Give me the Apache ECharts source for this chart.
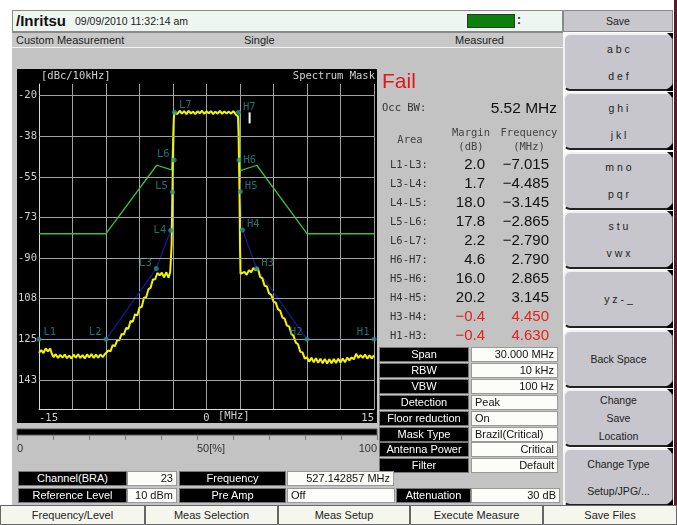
<!DOCTYPE html>
<html>
<head>
<meta charset="utf-8">
<script src="https://cdn.jsdelivr.net/npm/echarts@6/dist/echarts.min.js"></script>
<style>
  body { margin: 0; width: 677px; height: 525px; overflow: hidden; background: #fff; position: relative;
         font-family: "Liberation Sans", Arial, sans-serif; color: #222; }
  .a { position: absolute; box-sizing: border-box; white-space: nowrap; }
  .mono { font-family: "DejaVu Sans Mono", monospace; }
  .blk { background: #000; color: #fff; border: 1px solid #777; font-size: 11px; text-align: center; line-height: 13px; }
  .wht { background: #fcfcf8; color: #111; border: 1px solid #999; font-size: 11px; text-align: right; line-height: 13px; padding: 0 3px; }
  .sk { position: absolute; left: 563px; width: 110px; box-sizing: border-box; background: #c6c6cc;
        border-top: 2px solid #f2f2f2; border-left: 2px solid #f2f2f2; border-right: 1px solid #666; border-bottom: 2px solid #222;
        border-radius: 7px; display: flex; flex-direction: column; justify-content: space-around; align-items: center;
        font-size: 10.5px; color: #222; }
  .sk::after { content: ""; position: absolute; right: -1px; bottom: -2px; border-left: 7px solid transparent; border-bottom: 7px solid #000; }
  .sk::before { content: ""; position: absolute; right: -1px; top: -2px; border-left: 6px solid transparent; border-top: 6px solid #000; }
  .btn { position: absolute; top: 505px; height: 20px; box-sizing: border-box; background: #f5f7ee; border: 1px solid #666;
         font-size: 11px; text-align: center; line-height: 18px; color: #222; }
</style>
</head>
<body>
<!-- instrument chrome -->
<div class="a" style="left:12px;top:31px;width:551px;height:474px;background:#c3c3c3"></div>
<div class="a" style="left:12px;top:10px;width:551px;height:22px;background:#eef6f2;border:1px solid #8a8a8a"></div>
<div class="a" style="left:16px;top:12px;font-size:15px;font-weight:bold;color:#111;line-height:18px">/Inritsu</div>
<div class="a" style="left:75px;top:15px;font-size:10.5px;line-height:13px">09/09/2010 11:32:14 am</div>
<div class="a" style="left:467px;top:14px;width:48px;height:14px;background:#0b800b;border:1px solid #333"></div>
<div class="a" style="left:517px;top:13px;font-size:12px;font-weight:bold">:</div>
<div class="a" style="left:12px;top:32px;width:551px;height:16px;background:#c8c8c8;border-top:1px solid #8a8a8a;border-bottom:1px solid #f4f4f4"></div>
<div class="a" style="left:16px;top:34px;font-size:11px;line-height:13px">Custom Measurement</div>
<div class="a" style="left:244px;top:34px;font-size:11px;line-height:13px">Single</div>
<div class="a" style="left:455px;top:34px;font-size:11px;line-height:13px">Measured</div>
<div class="a" style="left:17px;top:69px;width:360px;height:354px;background:#000"></div>
<div class="a" style="left:674px;top:0px;width:3px;height:505px;background:#5a1a2a"></div>

<div id="chart" class="a" style="left:13px;top:47px;width:550px;height:423px"></div>
<div id="panel"></div>

<script>
// spectrum trace (MHz, dBc/10kHz)
const traceMHz = [
  -15, -14.8, -14.6, -14.4, -14.2, -14.0, -13.85, -13.7, -13.5, -13.3, -13.1, -12.9, -12.7, -12.5, -12.3, -12.1,
  -11.9, -11.7, -11.5, -11.3, -11.1, -10.9, -10.7, -10.5, -10.3, -10.1, -9.9, -9.7, -9.5, -9.3, -9.1, -8.95,
  -8.8, -8.6, -8.4, -8.2, -8.0, -7.8, -7.6, -7.4, -7.2, -7.0, -6.8, -6.6, -6.4, -6.2, -6.0, -5.8, -5.6, -5.4,
  -5.2, -5.0, -4.8, -4.6, -4.4, -4.2, -4.0, -3.8, -3.6, -3.4, -3.25, -3.15,
  -3.12, -3.08, -3.03, -2.98, -2.93, -2.88,
  -2.8, -2.6, -2.4, -2.2, -2.0, -1.8, -1.6, -1.4, -1.2, -1.0, -0.8, -0.6, -0.4, -0.2, 0, 0.2, 0.4, 0.6, 0.8,
  1.0, 1.2, 1.4, 1.6, 1.8, 2.0, 2.2, 2.4, 2.6, 2.75,
  2.82, 2.87, 2.92, 2.97, 3.0, 3.05,
  3.2, 3.4, 3.6, 3.8, 4.0, 4.2, 4.4, 4.6, 4.8, 5.0, 5.2, 5.4, 5.6, 5.8, 6.0, 6.2, 6.4, 6.6, 6.8, 7.0, 7.2,
  7.4, 7.6, 7.8, 8.0, 8.2, 8.4, 8.6, 8.8, 9.0,
  9.2, 9.4, 9.6, 9.8, 10.0, 10.2, 10.4, 10.6, 10.8, 11.0, 11.2, 11.4, 11.6, 11.8, 12.0, 12.2, 12.4, 12.6,
  12.8, 13.0, 13.2, 13.4, 13.6, 13.8, 14.0, 14.2, 14.4, 14.6, 14.8, 15.0
];
const traceDb = [
  -130.8, -129.6, -130.9, -128.9, -130.2, -129.0, -131.2, -132.6, -131.4, -133.0, -131.7, -132.9, -131.5, -133.1, -132.0, -133.2,
  -131.6, -132.9, -131.4, -133.0, -131.8, -133.2, -131.5, -132.8, -131.3, -133.0, -131.6, -132.9, -131.5, -132.7, -131.4, -132.2,
  -129.8, -130.2, -127.5, -127.9, -125.4, -125.4, -122.7, -122.9, -120.1, -120.4, -117.1, -117.4, -114.2, -114.7, -111.3, -111.1, -107.1, -106.9,
  -103.4, -102.7, -99.2, -99.1, -96.4, -97.4, -96.3, -98.3, -96.1, -98.4, -96.0, -95.5,
  -84, -70, -55, -40, -30, -27.4,
  -26.6, -27.9, -26.5, -27.8, -26.7, -28.0, -26.6, -27.7, -26.9, -28.0, -26.8, -27.6, -26.5, -27.9, -26.8, -27.6, -26.7, -28.0, -26.9,
  -27.8, -26.6, -27.9, -26.8, -27.7, -26.9, -27.8, -26.7, -28.0, -27.2,
  -29, -36, -50, -68, -85, -96.8,
  -97.6, -95.9, -97.2, -95.2, -96.1, -94.3, -95.2, -94.4, -98.1, -98.7, -101.9, -102.1, -105.2, -105.8, -108.7, -109.2, -112.0, -112.7, -115.6, -116.1, -119.1,
  -119.4, -122.7, -123.5, -126.4, -127.1, -130.4, -130.6, -133.3, -132.8,
  -134.6, -132.9, -134.9, -133.1, -135.1, -133.3, -135.3, -133.4, -135.4, -133.6, -135.3, -133.5, -135.2, -133.3, -135.0, -133.2, -134.9, -132.9,
  -134.0, -132.8, -133.6, -131.2, -133.0, -131.8, -133.0, -131.5, -133.3, -131.9, -133.2, -131.9
];

// critical mask limit with its points L1..L7, H7..H1
const limitNames = ['L1', 'L2', 'L3', 'L4', 'L5', 'L6', 'L7', 'H7', 'H6', 'H5', 'H4', 'H3', 'H2', 'H1'];
const limitMHz = [-15, -9, -4.5, -3.2, -3.05, -2.9, -2.87, 2.87, 2.9, 3.03, 3.22, 4.5, 9, 15];
const limitDb = [-125, -125, -94.5, -78, -61.5, -47.7, -27.2, -27.2, -47.7, -61.3, -77.9, -94.5, -125, -125];

// second (green) mask
const greenMHz = [-15, -9, -4.46, -3.12, -2.9, 2.9, 3.03, 4.5, 9, 15];
const greenDb = [-79.5, -79.5, -50, -52, -27.2, -27.2, -52.3, -50, -79.5, -79.5];

// axis ticks
const yTickValues = [-20, -37.5, -55, -72.5, -90, -107.5, -125, -142.5];
const yTickLabels = ['-20', '-38', '-55', '-73', '-90', '108', '125', '143'];
const xTickLabelValues = [-15, 0, 15];
const progressLabelValues = [0, 50, 100];
const progressLabels = ['0', '50[%]', '100'];

// result table
const occBw = '5.52 MHz';
const areaNames = ['L1-L3:', 'L3-L4:', 'L4-L5:', 'L5-L6:', 'L6-L7:', 'H6-H7:', 'H5-H6:', 'H4-H5:', 'H3-H4:', 'H1-H3:'];
const marginDb = [2.0, 1.7, 18.0, 17.8, 2.2, 4.6, 16.0, 20.2, -0.4, -0.4];
const worstMHz = [-7.015, -4.485, -3.145, -2.865, -2.790, 2.790, 2.865, 3.145, 4.450, 4.630];

const settingNames = ['Span', 'RBW', 'VBW', 'Detection', 'Floor reduction', 'Mask Type', 'Antenna Power', 'Filter'];
const settingValues = ['30.000 MHz', '10 kHz', '100 Hz', 'Peak', 'On', 'Brazil(Critical)', 'Critical', 'Default'];

const softkeys = [['a b c', 'd e f'], ['g h i', 'j k l'], ['m n o', 'p q r'], ['s t u', 'v w x'], ['y z - _'],
                  ['Back Space'], ['Change', 'Save', 'Location'], ['Change Type', 'Setup/JPG/...']];
const bottomButtons = ['Frequency/Level', 'Meas Selection', 'Meas Setup', 'Execute Measure', 'Save Files'];

// label placement of the mask points
const labelSide = ['right', 'left', 'left', 'left', 'left', 'left', 'right', 'right', 'right', 'right', 'right', 'right', 'left', 'left'];
const labelRise = [-7, -7, -5, 0, -6, -6, -7, -5, 0, -5, -6, -5, -7, -7];

const MONO = 'DejaVu Sans Mono';

// ---------- html panel ----------
let html = '';
const put = (s) => { html += s; };
put('<div class="a" style="left:382px;top:70px;font-size:21px;line-height:22px;color:#e4141c">Fail</div>');
put('<div class="a mono" style="left:382px;top:101px;font-size:10.5px;line-height:13px;color:#333">Occ BW:</div>');
put('<div class="a" style="right:120px;top:99px;font-size:15.5px;line-height:18px;color:#111">' + occBw + '</div>');
const hdr = (txt, cx, cy) => put('<div class="a mono" style="left:' + (cx - 40) + 'px;width:80px;text-align:center;top:' + (cy - 7) + 'px;font-size:10.5px;line-height:14px;color:#444">' + txt + '</div>');
hdr('Area', 410, 139); hdr('Margin', 471, 132); hdr('(dB)', 471, 146); hdr('Frequency', 529, 132); hdr('(MHz)', 529, 146);
const fmtNum = (v, d) => (v < 0 ? '\u2212' : '') + Math.abs(v).toFixed(d);
areaNames.forEach((n, i) => {
  const cy = 164 + i * 19.05;
  const col = marginDb[i] < 0 ? '#e4201c' : '#111';
  put('<div class="a mono" style="left:390px;top:' + (cy - 7) + 'px;font-size:10.5px;line-height:14px;color:#333">' + n + '</div>');
  put('<div class="a" style="right:' + (677 - 485) + 'px;top:' + (cy - 9) + 'px;font-size:15px;line-height:18px;color:' + col + '">' + fmtNum(marginDb[i], 1) + '</div>');
  put('<div class="a" style="right:' + (677 - 549) + 'px;top:' + (cy - 9) + 'px;font-size:15px;line-height:18px;color:' + col + '">' + fmtNum(worstMHz[i], 3) + '</div>');
});
settingNames.forEach((n, i) => {
  const top = 347 + i * 15.9;
  const leftAlign = (n === 'Detection' || n === 'Floor reduction' || n === 'Mask Type');
  put('<div class="a blk" style="left:379px;top:' + top + 'px;width:90px;height:15px">' + n + '</div>');
  put('<div class="a wht" style="left:471px;top:' + top + 'px;width:87px;height:15px;text-align:' + (leftAlign ? 'left' : 'right') + '">' + settingValues[i] + '</div>');
});
// bottom info rows
const cell = (cls, x, y, w, txt, align) => put('<div class="a ' + cls + '" style="left:' + x + 'px;top:' + y + 'px;width:' + w + 'px;height:15px' + (align ? ';text-align:' + align : '') + '">' + txt + '</div>');
cell('blk', 18, 471, 109, 'Channel(BRA)'); cell('wht', 127, 471, 50, '23'); cell('blk', 179, 471, 107, 'Frequency'); cell('wht', 287, 471, 107, '527.142857 MHz');
cell('blk', 18, 488, 109, 'Reference Level'); cell('wht', 127, 488, 50, '10 dBm'); cell('blk', 179, 488, 107, 'Pre Amp'); cell('wht', 287, 488, 108, 'Off', 'left');
cell('blk', 396, 488, 75, 'Attenuation'); cell('wht', 471, 488, 89, '30 dB');
// softkeys
put('<div class="a" style="left:563px;top:10px;width:110px;height:22px;background:#c8c8cc;border:1px solid #888;font-size:10.5px;text-align:center;line-height:20px">Save</div>');
softkeys.forEach((lines, i) => {
  put('<div class="sk" style="top:' + (33 + i * 59.3) + 'px;height:58px">' + lines.map(l => '<span>' + l + '</span>').join('') + '</div>');
});
const bx = [0, 145, 278, 410, 543], bw = [145, 133, 132, 133, 134];
bottomButtons.forEach((b, i) => put('<div class="btn" style="left:' + bx[i] + 'px;width:' + bw[i] + 'px">' + b + '</div>'));
document.getElementById('panel').innerHTML = html;

// ---------- chart ----------
const chart = echarts.init(document.getElementById('chart'));
const pairs = (xs, ys) => xs.map((x, i) => [x, ys[i]]);
const closestLabel = (v, vals, labels) => {
  let k = 0;
  vals.forEach((t, i) => { if (Math.abs(t - v) < Math.abs(vals[k] - v)) k = i; });
  return labels[k];
};

const option = {
  animation: false,
  title: [
    { text: '[dBc/10kHz]', left: 28, top: 24, padding: 0, textStyle: { color: '#d0d0d0', fontFamily: MONO, fontSize: 10.5, fontWeight: 'normal' } },
    { text: 'Spectrum Mask', right: 188, top: 24, padding: 0, textStyle: { color: '#d0d0d0', fontFamily: MONO, fontSize: 10.5, fontWeight: 'normal' } },
    { text: '[MHz]', left: 205, top: 364, padding: 0, textStyle: { color: '#d0d0d0', fontFamily: MONO, fontSize: 10.5, fontWeight: 'normal' } }
  ],
  grid: [
    { left: 26, top: 37, width: 335, height: 325 },
    { left: 4, top: 382, width: 360, height: 6, show: true, backgroundColor: '#000', borderColor: '#555', borderWidth: 1 }
  ],
  xAxis: [
    {
      gridIndex: 0, type: 'value', min: -15, max: 15, interval: 3,
      axisLine: { show: true, onZero: false, lineStyle: { color: '#d8d8d8' } },
      axisTick: { show: false },
      splitLine: { show: true, lineStyle: { color: '#a2a2a2', width: 1 } },
      axisLabel: {
        customValues: xTickLabelValues, margin: 4, color: '#d0d0d0', fontFamily: MONO, fontSize: 10.5,
        alignMinLabel: 'left', alignMaxLabel: 'right', formatter: (v) => String(Math.round(v))
      }
    },
    {
      gridIndex: 1, type: 'value', min: 0, max: 100, interval: 10,
      axisLine: { show: false },
      axisTick: { show: true, length: 5, lineStyle: { color: '#7a7a7a' } },
      splitLine: { show: false },
      axisLabel: {
        customValues: progressLabelValues, margin: 8, color: '#333', fontSize: 11, fontFamily: 'Liberation Sans',
        align: 'left', alignMinLabel: 'left', alignMaxLabel: 'right',
        formatter: (v) => closestLabel(v, progressLabelValues, progressLabels)
      }
    }
  ],
  yAxis: [
    {
      gridIndex: 0, type: 'value', min: -155, max: -15,
      axisLine: { show: true, onZero: false, lineStyle: { color: '#d8d8d8' } },
      axisTick: { show: false },
      splitLine: { show: false },
      axisLabel: {
        customValues: yTickValues, align: 'left', margin: 21, color: '#d0d0d0', fontFamily: MONO, fontSize: 10.5,
        formatter: (v) => closestLabel(v, yTickValues, yTickLabels)
      }
    },
    { gridIndex: 1, type: 'value', min: 0, max: 1, show: false }
  ],
  series: [
    {
      name: 'grid', type: 'line', data: [], z: 1, silent: true,
      markLine: {
        silent: true, symbol: ['none', 'none'], label: { show: false }, animation: false,
        lineStyle: { color: '#a2a2a2', type: 'solid', width: 1 },
        data: yTickValues.map(v => ({ yAxis: v }))
      }
    },
    {
      name: 'mask', type: 'line', data: pairs(greenMHz, greenDb), symbol: 'none', z: 2,
      lineStyle: { color: '#3cbf3c', width: 1.3 }
    },
    {
      name: 'limit', type: 'line', data: pairs(limitMHz, limitDb), symbol: 'none', z: 3,
      lineStyle: { color: '#18188e', width: 1.3 }
    },
    {
      name: 'trace', type: 'line', data: pairs(traceMHz, traceDb), symbol: 'none', z: 4,
      lineStyle: { color: '#f4f400', width: 2 },
      markPoint: {
        symbol: 'rect', symbolSize: [2, 11], itemStyle: { color: '#ffffff' }, label: { show: false },
        data: [{ coord: [3.86, -29.6] }]
      }
    },
    {
      name: 'points', type: 'scatter', z: 5, symbol: 'circle', symbolSize: 5,
      itemStyle: { color: '#1f9090' },
      data: limitNames.map((n, i) => ({
        name: n, value: [limitMHz[i], limitDb[i]],
        label: { show: true, position: labelSide[i], distance: 2, offset: [0, labelRise[i]], formatter: '{b}',
                 color: '#2a8c8c', fontFamily: MONO, fontSize: 10.5 }
      }))
    }
  ]
};
chart.setOption(option);
</script>
</body>
</html>
